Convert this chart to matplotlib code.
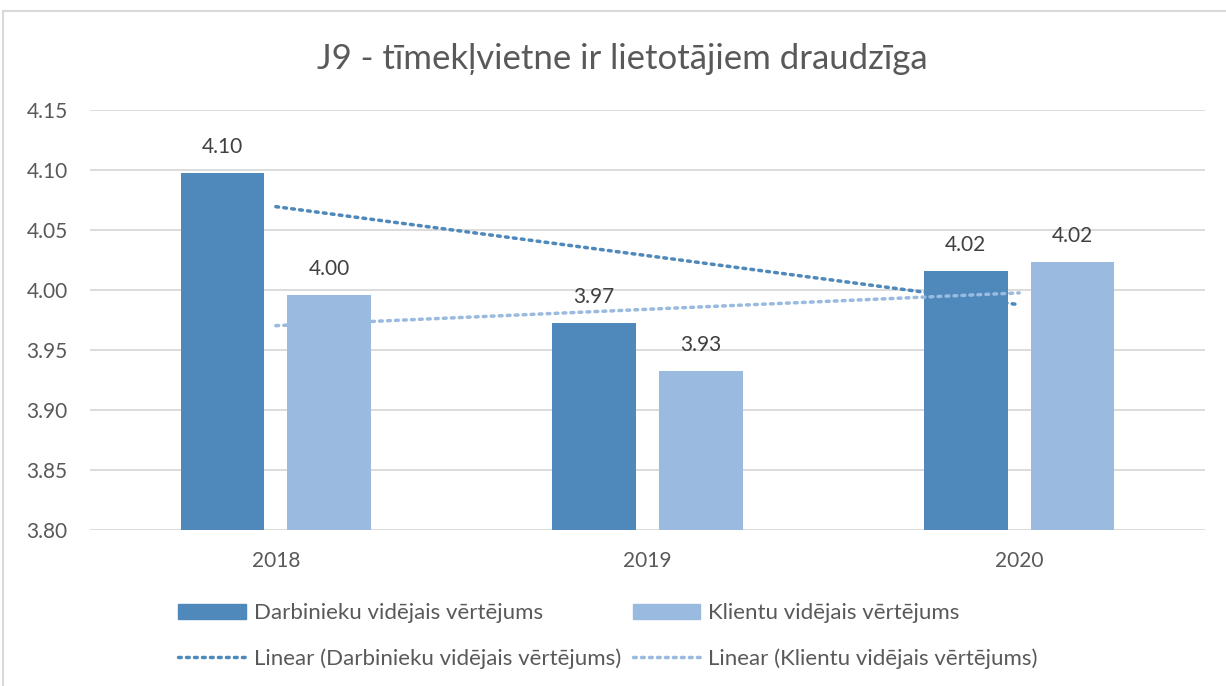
import numpy as np
import matplotlib.pyplot as plt
from matplotlib.patches import Rectangle
from matplotlib.lines import Line2D

# data
years = ["2018", "2019", "2020"]
darbinieki = [4.0975, 3.9725, 4.0158]
klienti = [3.996, 3.9325, 4.0233]
darb_labels = ["4.10", "3.97", "4.02"]
klient_labels = ["4.00", "3.93", "4.02"]
yticks = [3.80, 3.85, 3.90, 3.95, 4.00, 4.05, 4.10, 4.15]

DARK = "#4F88BB"
LIGHT = "#9BBAE0"
TXT = "#595959"
GRID = "#D9D9D9"
FS = 15

plt.rcParams['font.family'] = ['Lato', 'DejaVu Sans']

fig = plt.figure(figsize=(12.26, 6.86), dpi=100)
ax = fig.add_axes([90 / 1226, 1 - 530 / 686, (1205 - 90) / 1226, 420 / 686])

x = np.arange(len(years))
w = 0.226
off = 0.1435
ax.bar(x - off, darbinieki, w, color=DARK, zorder=2)
ax.bar(x + off, klienti, w, color=LIGHT, zorder=2)

for xi, v, s in zip(x - off, darbinieki, darb_labels):
    ax.text(xi, v + 0.013, s, ha="center", va="bottom", fontsize=FS, color="#404040")
for xi, v, s in zip(x + off, klienti, klient_labels):
    ax.text(xi, v + 0.013, s, ha="center", va="bottom", fontsize=FS, color="#404040")

# linear trendlines, as Excel draws them
dots = (0, (0.8, 1.5))
p1 = np.polyfit(x, darbinieki, 1)
p2 = np.polyfit(x, klienti, 1)
ax.plot(x, np.polyval(p1, x), color=DARK, lw=2.5, ls=dots, zorder=3,
        dash_capstyle="round")
ax.plot(x, np.polyval(p2, x), color=LIGHT, lw=2.5, ls=dots, zorder=3,
        dash_capstyle="round")

ax.set_ylim(3.80, 4.15)
ax.set_xlim(-0.5, 2.5)
ax.set_yticks(yticks)
ax.set_yticklabels([f"{t:.2f}" for t in yticks])
ax.set_xticks(x)
ax.set_xticklabels(years)
ax.tick_params(axis="both", length=0, labelsize=FS, colors=TXT)
ax.tick_params(axis="y", pad=16)
ax.tick_params(axis="x", pad=15)
ax.yaxis.grid(True, color=GRID, lw=1.3, zorder=0)
for s in ax.spines.values():
    s.set_visible(False)

fig.text(622 / 1226, 1 - 59 / 686, "J9 - tīmekļvietne ir lietotājiem draudzīga",
         ha="center", va="center", fontsize=25, color=TXT)

handles = [
    Rectangle((0, 0), 1, 1, color=DARK),
    Line2D([], [], color=DARK, lw=2.5, ls=dots, dash_capstyle="round"),
    Rectangle((0, 0), 1, 1, color=LIGHT),
    Line2D([], [], color=LIGHT, lw=2.5, ls=dots, dash_capstyle="round"),
]
labels = [
    "Darbinieku vidējais vērtējums",
    "Linear (Darbinieku vidējais vērtējums)",
    "Klientu vidējais vērtējums",
    "Linear (Klientu vidējais vērtējums)",
]
fig.legend(handles, labels, ncol=2, loc="center", bbox_to_anchor=(0.496, 1 - 636 / 686),
           frameon=False, fontsize=16, handlelength=3.05, handleheight=0.7,
           handletextpad=0.36, columnspacing=0.5, labelspacing=1.1, labelcolor=TXT)

# chart border
fig.patches.append(Rectangle((3 / 1226, -0.05), 1.0, 1 - 11 / 686 + 0.05,
                             transform=fig.transFigure, fill=False, ec=GRID, lw=1.5))

fig.savefig("out.png", dpi=100)
